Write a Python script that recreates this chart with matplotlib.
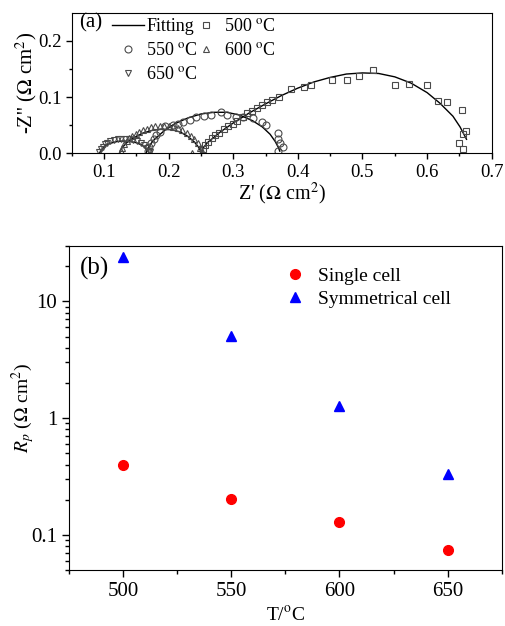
import matplotlib
matplotlib.use('Agg')
import matplotlib.pyplot as plt
import numpy as np
from matplotlib.ticker import MultipleLocator, FormatStrFormatter, FixedLocator, LogLocator, NullFormatter

plt.rcParams['font.family'] = ['Liberation Serif', 'DejaVu Serif']
plt.rcParams['mathtext.fontset'] = 'stix'

# impedance spectra, single cell (Z' and -Z'' in ohm cm2)
z500_re = [0.253, 0.256, 0.261, 0.267, 0.272, 0.278, 0.285, 0.292, 0.299, 0.306, 0.315, 0.322,
           0.329, 0.336, 0.344, 0.352, 0.360, 0.371, 0.389, 0.409, 0.420, 0.453, 0.476, 0.494,
           0.517, 0.550, 0.572, 0.600, 0.617, 0.631, 0.654, 0.660, 0.655, 0.649, 0.656]
z500_im = [0.008, 0.015, 0.021, 0.027, 0.033, 0.037, 0.043, 0.048, 0.053, 0.058, 0.065, 0.071,
           0.076, 0.081, 0.086, 0.091, 0.095, 0.100, 0.115, 0.118, 0.121, 0.130, 0.131, 0.138,
           0.148, 0.121, 0.123, 0.122, 0.093, 0.091, 0.077, 0.040, 0.034, 0.019, 0.008]

z550_re = [0.168, 0.170, 0.173, 0.177, 0.181, 0.186, 0.194, 0.207, 0.215, 0.223, 0.233, 0.243,
           0.254, 0.265, 0.281, 0.290, 0.304, 0.315, 0.330, 0.344, 0.351, 0.370, 0.370, 0.372,
           0.377, 0.370]
z550_im = [0.005, 0.012, 0.019, 0.026, 0.032, 0.038, 0.048, 0.050, 0.053, 0.056, 0.060, 0.065,
           0.066, 0.068, 0.073, 0.069, 0.064, 0.064, 0.062, 0.055, 0.050, 0.036, 0.025, 0.019,
           0.012, 0.005]

z600_re = [0.126, 0.128, 0.131, 0.135, 0.139, 0.144, 0.149, 0.154, 0.160, 0.166, 0.172, 0.179,
           0.186, 0.193, 0.200, 0.207, 0.214, 0.221, 0.228, 0.234, 0.240, 0.246, 0.249, 0.251,
           0.236]
z600_im = [0.004, 0.010, 0.016, 0.022, 0.027, 0.031, 0.035, 0.038, 0.041, 0.044, 0.046, 0.048,
           0.049, 0.049, 0.048, 0.047, 0.045, 0.042, 0.037, 0.031, 0.025, 0.018, 0.010, 0.004,
           0.001]

z650_re = [0.093, 0.095, 0.098, 0.101, 0.105, 0.110, 0.115, 0.121, 0.127, 0.133, 0.139, 0.145,
           0.151, 0.157, 0.162, 0.166, 0.169, 0.171]
z650_im = [0.002, 0.007, 0.012, 0.016, 0.019, 0.022, 0.024, 0.025, 0.026, 0.026, 0.025, 0.024,
           0.022, 0.019, 0.015, 0.010, 0.005, 0.002]

# equivalent circuit fits
fit500_re = [0.250, 0.253, 0.260, 0.280, 0.300, 0.325, 0.350, 0.375, 0.400, 0.425, 0.450, 0.475,
             0.500, 0.525, 0.550, 0.575, 0.600, 0.620, 0.640, 0.651, 0.661]
fit500_im = [0.000, 0.009, 0.019, 0.038, 0.054, 0.072, 0.088, 0.103, 0.116, 0.127, 0.135, 0.141,
             0.143, 0.142, 0.136, 0.125, 0.108, 0.089, 0.066, 0.047, 0.025]
fit550_re = [0.165, 0.167, 0.170, 0.175, 0.180, 0.195, 0.210, 0.230, 0.250, 0.270, 0.290, 0.310,
             0.330, 0.345, 0.357, 0.365, 0.370, 0.372]
fit550_im = [0.000, 0.007, 0.013, 0.021, 0.027, 0.042, 0.053, 0.063, 0.070, 0.073, 0.073, 0.068,
             0.058, 0.047, 0.034, 0.021, 0.010, 0.004]
fit600_re = [0.124, 0.126, 0.128, 0.135, 0.145, 0.160, 0.175, 0.190, 0.205, 0.218, 0.230, 0.240,
             0.247, 0.251]
fit600_im = [0.000, 0.006, 0.010, 0.019, 0.027, 0.036, 0.041, 0.043, 0.042, 0.038, 0.030, 0.020,
             0.010, 0.000]
fit650_re = [0.093, 0.095, 0.097, 0.103, 0.110, 0.120, 0.130, 0.140, 0.150, 0.158, 0.164, 0.168,
             0.170]
fit650_im = [0.000, 0.005, 0.008, 0.014, 0.018, 0.021, 0.022, 0.021, 0.019, 0.015, 0.010, 0.004,
             0.000]

# polarization resistance vs temperature
temps = [500, 550, 600, 650]
rp_single = [0.40, 0.202, 0.128, 0.0735]
rp_symm = [23.8, 5.08, 1.26, 0.333]

fig = plt.figure(figsize=(5.05, 6.26), dpi=100)

# ---- (a) Nyquist plot
ax1 = fig.add_axes([0.142, 0.755, 0.8317, 0.2247])
mc = '#4a4a4a'
mk = dict(linestyle='none', markerfacecolor='none', markeredgecolor=mc,
          markeredgewidth=0.8, markersize=5)
for fx, fy in [(fit500_re, fit500_im), (fit550_re, fit550_im),
               (fit600_re, fit600_im), (fit650_re, fit650_im)]:
    ax1.plot(fx, fy, color='black', lw=1.0)
h_fit, = ax1.plot([], [], color='black', lw=1.0, label='Fitting')
h500, = ax1.plot(z500_re, z500_im, marker='s', label='500 $^\\mathrm{o}$C', **mk)
h550, = ax1.plot(z550_re, z550_im, marker='o', label='550 $^\\mathrm{o}$C', **mk)
h600, = ax1.plot(z600_re, z600_im, marker='^', label='600 $^\\mathrm{o}$C', **mk)
h650, = ax1.plot(z650_re, z650_im, marker='v', label='650 $^\\mathrm{o}$C', **mk)

ax1.set_xlim(0.05, 0.7)
ax1.set_ylim(0, 0.25)
ax1.xaxis.set_major_locator(MultipleLocator(0.1))
ax1.xaxis.set_minor_locator(MultipleLocator(0.05))
ax1.yaxis.set_major_locator(FixedLocator([0.0, 0.1, 0.2]))
ax1.yaxis.set_minor_locator(FixedLocator([0.05, 0.15]))
ax1.xaxis.set_major_formatter(FormatStrFormatter('%.1f'))
ax1.yaxis.set_major_formatter(FormatStrFormatter('%.1f'))
ax1.tick_params(which='both', direction='out', top=False, right=False, labelsize=13.5)
ax1.tick_params(which='major', length=4, width=1)
ax1.tick_params(which='minor', length=2.5, width=1)
ax1.set_xlabel("Z' ($\\Omega$ cm$^2$)", fontsize=14.5, labelpad=0)
ax1.set_ylabel("-Z'' ($\\Omega$ cm$^2$)", fontsize=15, labelpad=-1)
ax1.text(0.018, 0.93, '(a)', transform=ax1.transAxes, fontsize=15, va='center', ha='left')
ax1.legend(handles=[h_fit, h550, h650, h500, h600], ncol=2, loc='upper left',
           bbox_to_anchor=(0.07, 1.04), frameon=False, fontsize=13,
           handlelength=1.75, handletextpad=0.15, columnspacing=-0.45, labelspacing=0.4,
           borderaxespad=0.2)

# ---- (b) Rp vs temperature
ax2 = fig.add_axes([0.1366, 0.0895, 0.857, 0.518])
ax2.plot(temps, rp_single, 'o', color='red', markersize=7, label='Single cell')
ax2.plot(temps, rp_symm, '^', color='blue', markersize=7.5, label='Symmetrical cell')
ax2.set_yscale('log')
ax2.set_xlim(475, 675)
ax2.set_ylim(0.05, 30)
ax2.xaxis.set_major_locator(FixedLocator(temps))
ax2.xaxis.set_minor_locator(MultipleLocator(25))
ax2.yaxis.set_major_locator(FixedLocator([0.1, 1, 10]))
ax2.yaxis.set_major_formatter(FormatStrFormatter('%g'))
ax2.yaxis.set_minor_locator(LogLocator(base=10, subs=np.arange(2, 10)))
ax2.yaxis.set_minor_formatter(NullFormatter())
ax2.tick_params(which='both', direction='out', top=False, right=False, labelsize=15)
ax2.tick_params(which='major', length=5, width=1)
ax2.tick_params(which='minor', length=3, width=1)
ax2.set_xlabel('T/$^\\mathrm{o}$C', fontsize=14, labelpad=3)
ax2.set_ylabel('$R_p$ ($\\Omega$ cm$^2$)', fontsize=14, labelpad=-4)
ax2.text(0.025, 0.93, '(b)', transform=ax2.transAxes, fontsize=18, va='center', ha='left')
ax2.legend(loc='upper left', bbox_to_anchor=(0.45, 0.97), frameon=False, fontsize=14,
           handletextpad=0.2, labelspacing=0.3, borderaxespad=0.2)

fig.savefig('out.png', dpi=100)
